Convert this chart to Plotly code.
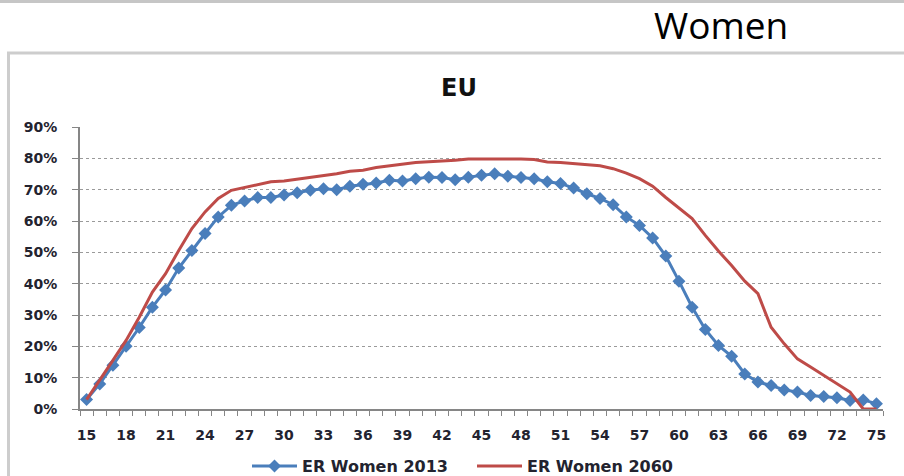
import plotly.graph_objects as go

# Employment rate of women by single year of age, EU
ages = list(range(15, 76))

er_women_2013 = [
    3.0, 8.0, 14.0, 20.0, 26.0, 32.5, 38.0, 45.0, 50.6, 56.0,
    61.3, 65.0, 66.4, 67.5, 67.5, 68.3, 69.0, 69.8, 70.3, 70.0,
    71.1, 71.7, 72.1, 73.0, 72.8, 73.5, 74.0, 73.9, 73.2, 74.0,
    74.6, 75.1, 74.3, 73.9, 73.5, 72.5, 72.0, 70.5, 68.7, 67.2,
    65.2, 61.3, 58.6, 54.6, 48.8, 40.8, 32.5, 25.4, 20.3, 16.8,
    11.2, 8.6, 7.5, 6.1, 5.4, 4.3, 4.0, 3.6, 2.7, 2.9,
    1.7,
]

er_women_2060 = [
    3.0, 9.1, 15.5, 21.9, 29.3, 37.3, 43.2, 50.6, 57.6, 62.9,
    67.2, 69.8, 70.7, 71.7, 72.5, 72.8, 73.4, 74.0, 74.4, 75.1,
    75.9, 76.2, 77.1, 77.6, 78.3, 78.7, 78.9, 79.1, 79.4, 79.8,
    79.8, 80.0, 80.0, 79.8, 79.6, 78.8, 78.7, 78.3, 77.8, 77.6,
    76.7, 75.3, 73.5, 71.1, 67.5, 64.3, 60.8, 55.4, 50.4, 45.8,
    40.8, 36.8, 26.1, 20.8, 16.0, 13.4, 10.7, 8.1, 5.4, 0.0,
    0.0,
]

x_tick_labels = list(range(15, 76, 3))
y_tick_values = list(range(0, 91, 10))
y_tick_labels = [f"{v}%" for v in y_tick_values]

series_names = ["ER Women 2013", "ER Women 2060"]

# plot-area geometry in pixels (904 x 476 canvas)
L, R, T, B = 80, 883, 127, 409
W, H = R - L, B - T
CW, CH = 904, 476


def px_x(p):
    return (p - L) / W


def px_y(p):
    return (B - p) / H


TEXT = "#23232f"
AXIS = "#868686"
FONT = "DejaVu Sans"

fig = go.Figure()

fig.add_trace(go.Scatter(
    x=ages, y=er_women_2013, name=series_names[0],
    mode="lines+markers",
    line=dict(color="#4a7ebb", width=3),
    marker=dict(symbol="diamond", size=10, color="#4a7ebb"),
))

fig.add_trace(go.Scatter(
    x=ages, y=er_women_2060, name=series_names[1],
    mode="lines",
    line=dict(color="#be4b48", width=3),
))

shapes = [
    # frame of the panel above
    dict(type="line", xref="paper", yref="paper",
         x0=px_x(-2), x1=px_x(906), y0=px_y(1.5), y1=px_y(1.5),
         line=dict(color="#c6c6c6", width=3)),
    # chart frame
    dict(type="line", xref="paper", yref="paper",
         x0=px_x(7), x1=px_x(906), y0=px_y(53), y1=px_y(53),
         line=dict(color="#cdcdcd", width=3)),
    dict(type="line", xref="paper", yref="paper",
         x0=px_x(8.5), x1=px_x(8.5), y0=px_y(52), y1=px_y(478),
         line=dict(color="#cdcdcd", width=3)),
]

annotations = [
    dict(text="Women", xref="paper", yref="paper",
         x=px_x(652), y=px_y(24.5), xanchor="left", yanchor="middle",
         showarrow=False,
         font=dict(family="Open Sans", size=37, color="#000000")),
    dict(text="EU", xref="paper", yref="paper",
         x=px_x(459), y=px_y(88), xanchor="center", yanchor="middle",
         showarrow=False,
         font=dict(family=FONT, size=24, color="#111111", weight="bold")),
]

fig.update_layout(
    width=CW, height=CH,
    margin=dict(l=L, r=CW - R, t=T, b=CH - B, pad=0, autoexpand=False),
    paper_bgcolor="white", plot_bgcolor="white",
    showlegend=True,
    legend=dict(
        orientation="h",
        xref="container", yref="container",
        x=472 / CW, y=1 - 466 / CH,
        xanchor="center", yanchor="middle",
        font=dict(family=FONT, size=16, color=TEXT, weight="bold"),
        itemwidth=45, entrywidth=165, bgcolor="rgba(0,0,0,0)",
    ),
    shapes=shapes,
    annotations=annotations,
)

fig.update_xaxes(
    range=[14.5, 75.5],
    tickmode="array", tickvals=x_tick_labels,
    ticktext=[str(v) for v in x_tick_labels],
    ticks="", ticklabelstandoff=12,
    showgrid=False, zeroline=False,
    showline=True, linecolor=AXIS, linewidth=2,
    tickfont=dict(family=FONT, size=14, color=TEXT, weight="bold"),
    minor=dict(tick0=14.5, dtick=1, ticks="outside", ticklen=5,
               tickcolor=AXIS, tickwidth=1, showgrid=False),
)

fig.update_yaxes(
    range=[0, 90],
    tickmode="array", tickvals=y_tick_values, ticktext=y_tick_labels,
    ticks="outside", ticklen=6, tickcolor=AXIS, tickwidth=1,
    ticklabelstandoff=12,
    showgrid=True, gridcolor="#9a9a9a", gridwidth=1, griddash="dot",
    zeroline=False,
    showline=True, linecolor=AXIS, linewidth=2,
    tickfont=dict(family=FONT, size=14, color=TEXT, weight="bold"),
)

fig.write_html("out.html")
